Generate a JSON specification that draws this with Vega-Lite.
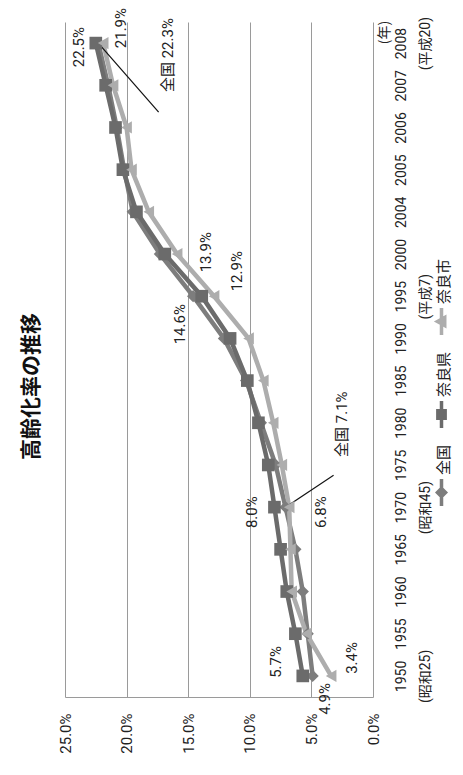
{
  "$schema": "https://vega.github.io/schema/vega-lite/v6.json",
  "width": 308,
  "height": 675,
  "autosize": {"type": "none"},
  "padding": {"left": 65, "top": 22, "right": 90, "bottom": 78},
  "background": "white",
  "title": {
    "text": "高齢化率の推移",
    "orient": "left",
    "anchor": "middle",
    "frame": "group",
    "offset": 16,
    "dx": -27,
    "font": "Noto Sans CJK JP",
    "fontSize": 21,
    "fontWeight": "bold",
    "color": "#111111"
  },
  "datasets": {
    "rates": [
      {"series": "全国", "year": 1950, "value": 4.9},
      {"series": "全国", "year": 1955, "value": 5.3},
      {"series": "全国", "year": 1960, "value": 5.7},
      {"series": "全国", "year": 1965, "value": 6.3},
      {"series": "全国", "year": 1970, "value": 7.1},
      {"series": "全国", "year": 1975, "value": 7.9},
      {"series": "全国", "year": 1980, "value": 9.1},
      {"series": "全国", "year": 1985, "value": 10.3},
      {"series": "全国", "year": 1990, "value": 12.1},
      {"series": "全国", "year": 1995, "value": 14.6},
      {"series": "全国", "year": 2000, "value": 17.3},
      {"series": "全国", "year": 2004, "value": 19.5},
      {"series": "全国", "year": 2005, "value": 20.2},
      {"series": "全国", "year": 2006, "value": 20.8},
      {"series": "全国", "year": 2007, "value": 21.5},
      {"series": "全国", "year": 2008, "value": 22.3},
      {"series": "奈良県", "year": 1950, "value": 5.7},
      {"series": "奈良県", "year": 1955, "value": 6.3},
      {"series": "奈良県", "year": 1960, "value": 7.0},
      {"series": "奈良県", "year": 1965, "value": 7.5},
      {"series": "奈良県", "year": 1970, "value": 8.0},
      {"series": "奈良県", "year": 1975, "value": 8.5},
      {"series": "奈良県", "year": 1980, "value": 9.3},
      {"series": "奈良県", "year": 1985, "value": 10.2},
      {"series": "奈良県", "year": 1990, "value": 11.6},
      {"series": "奈良県", "year": 1995, "value": 13.9},
      {"series": "奈良県", "year": 2000, "value": 16.9},
      {"series": "奈良県", "year": 2004, "value": 19.2},
      {"series": "奈良県", "year": 2005, "value": 20.3},
      {"series": "奈良県", "year": 2006, "value": 20.9},
      {"series": "奈良県", "year": 2007, "value": 21.7},
      {"series": "奈良県", "year": 2008, "value": 22.5},
      {"series": "奈良市", "year": 1950, "value": 3.4},
      {"series": "奈良市", "year": 1955, "value": 5.4},
      {"series": "奈良市", "year": 1960, "value": 6.6},
      {"series": "奈良市", "year": 1965, "value": 6.7},
      {"series": "奈良市", "year": 1970, "value": 6.8},
      {"series": "奈良市", "year": 1975, "value": 7.4},
      {"series": "奈良市", "year": 1980, "value": 8.1},
      {"series": "奈良市", "year": 1985, "value": 8.9},
      {"series": "奈良市", "year": 1990, "value": 10.1},
      {"series": "奈良市", "year": 1995, "value": 12.9},
      {"series": "奈良市", "year": 2000, "value": 15.9},
      {"series": "奈良市", "year": 2004, "value": 18.2},
      {"series": "奈良市", "year": 2005, "value": 19.6},
      {"series": "奈良市", "year": 2006, "value": 20.0},
      {"series": "奈良市", "year": 2007, "value": 21.1},
      {"series": "奈良市", "year": 2008, "value": 21.9}
    ],
    "leaders": [
      {"series": "全国", "year": 2008, "from": 22.3, "to": 17.4},
      {"series": "全国", "year": 1970, "from": 7.1, "to": 3.2}
    ]
  },
  "data": {"name": "rates"},
  "encoding": {
    "y": {
      "field": "year",
      "type": "ordinal",
      "sort": "descending",
      "scale": {"type": "point", "padding": 0.5},
      "axis": {
        "orient": "right",
        "title": "(年)",
        "titleAngle": -90,
        "titleX": 11,
        "titleY": 10,
        "titleAlign": "center",
        "titleBaseline": "middle",
        "titleFont": "Noto Sans CJK JP",
        "titleFontSize": 14,
        "titleFontWeight": "normal",
        "titleColor": "#222222",
        "labelAngle": -90,
        "labelAlign": "center",
        "labelBaseline": "top",
        "labelPadding": 21,
        "labelLineHeight": 24,
        "labelFont": "Roboto, Noto Sans CJK JP",
        "labelFontSize": 14,
        "labelColor": "#222222",
        "labelOverlap": false,
        "labelExpr": "datum.value == 1950 ? ['1950', '(昭和25)'] : datum.value == 1970 ? ['1970', '(昭和45)'] : datum.value == 1995 ? ['1995', '(平成7)'] : datum.value == 2008 ? ['2008', '(平成20)'] : datum.label",
        "ticks": false,
        "tickSize": 0,
        "domain": false,
        "grid": false
      }
    },
    "x": {
      "field": "value",
      "type": "quantitative",
      "scale": {"domain": [0, 25], "reverse": true, "nice": false},
      "axis": {
        "title": null,
        "values": [0, 5, 10, 15, 20, 25],
        "labelExpr": "format(datum.value, '.1f') + '%'",
        "labelAngle": -90,
        "labelPadding": 16,
        "labelFont": "Roboto",
        "labelFontSize": 15,
        "labelColor": "#222222",
        "ticks": false,
        "tickSize": 0,
        "domain": true,
        "domainColor": "#9a9a9a",
        "grid": true,
        "gridColor": "#9a9a9a",
        "gridWidth": 1
      }
    },
    "color": {
      "field": "series",
      "type": "nominal",
      "scale": {
        "domain": ["奈良市", "奈良県", "全国"],
        "range": ["#adadad", "#6b6b6b", "#7d7d7d"]
      },
      "legend": {
        "title": null,
        "orient": "none",
        "legendX": 361,
        "legendY": 284,
        "direction": "vertical",
        "padding": 0,
        "symbolType": "circle",
        "symbolSize": 729,
        "labelOffset": 0,
        "rowPadding": 9,
        "labelFont": "Noto Sans CJK JP",
        "labelFontSize": 15,
        "labelColor": "#222222",
        "encoding": {
          "labels": {
            "angle": {"value": -90},
            "align": {"value": "left"},
            "baseline": {"value": "middle"},
            "dx": {"value": 17.5},
            "dy": {"value": -13.5}
          },
          "symbols": {
            "shape": {"value": {"expr": "datum.value === '全国' ? 'M0,-1L0,1M0,-0.3L0.3,0L0,0.3L-0.3,0Z' : datum.value === '奈良県' ? 'M0,-1L0,1M-0.27,-0.27L0.27,-0.27L0.27,0.27L-0.27,0.27Z' : 'M0,-1L0,1M-0.3,0L0.24,-0.3L0.24,0.3Z'"}},
            "stroke": {"value": {"expr": "scale('color', datum.value)"}},
            "strokeWidth": {"value": 3.5},
            "opacity": {"value": 1}
          }
        }
      }
    }
  },
  "layer": [
    {
      "mark": {"type": "line", "strokeWidth": 4.5}
    },
    {
      "data": {"name": "leaders"},
      "mark": {
        "type": "rule",
        "strokeWidth": 1.2,
        "y2Offset": {"expr": "datum.year == 2008 ? 69 : -32"}
      },
      "encoding": {
        "x": {"field": "from", "type": "quantitative"},
        "x2": {"field": "to"},
        "y2": {"field": "year"},
        "color": {"value": "#111111"}
      }
    },
    {
      "transform": [{"filter": "datum.series === '全国'"}],
      "mark": {"type": "point", "shape": "diamond", "filled": true, "size": 150, "opacity": 1}
    },
    {
      "transform": [{"filter": "datum.series === '奈良県'"}],
      "mark": {"type": "point", "shape": "square", "filled": true, "size": 160, "opacity": 1}
    },
    {
      "transform": [{"filter": "datum.series === '奈良市'"}],
      "mark": {"type": "point", "shape": "triangle-left", "filled": true, "size": 150, "opacity": 1}
    },
    {
      "transform": [
        {"filter": {"field": "year", "oneOf": [1950, 1970, 1995, 2008]}},
        {"calculate": "(datum.series === '全国' && (datum.year === 2008 || datum.year === 1970) ? '全国 ' : '') + format(datum.value, '.1f') + '%'", "as": "label"}
      ],
      "mark": {
        "type": "text",
        "angle": -90,
        "align": "center",
        "baseline": "middle",
        "font": "Roboto, Noto Sans CJK JP",
        "fontSize": 15,
        "dx": {"expr": "({'奈良県2008': -4, '奈良市2008': 15, '全国2008': -12, '全国1995': -28, '奈良県1995': 44, '奈良市1995': 25, '全国1970': 83, '奈良県1970': -5, '奈良市1970': -5, '奈良県1950': 14, '全国1950': -23, '奈良市1950': 18})[datum.series + datum.year]"},
        "dy": {"expr": "({'奈良県2008': -17, '奈良市2008': 18, '全国2008': 70, '全国1995': -13, '奈良県1995': 4, '奈良市1995': 23, '全国1970': 56, '奈良県1970': -22, '奈良市1970': 32, '奈良県1950': -27, '全国1950': 12, '奈良市1950': 21})[datum.series + datum.year]"}
      },
      "encoding": {
        "text": {"field": "label"},
        "color": {"value": "#222222"}
      }
    }
  ],
  "config": {
    "view": {"stroke": null},
    "font": "Roboto"
  }
}
